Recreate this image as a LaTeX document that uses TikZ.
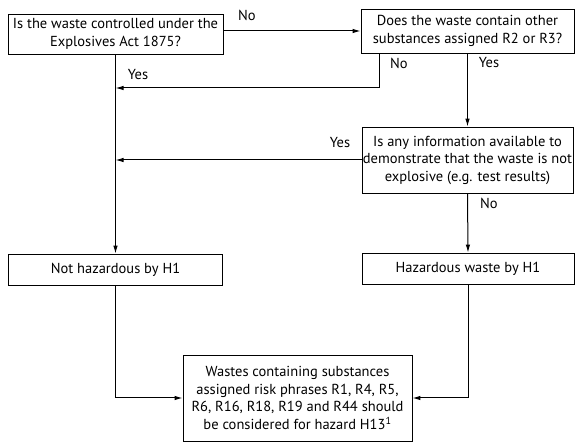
\documentclass[tikz,border=0pt]{standalone}
\usepackage{fontspec}
\setmainfont{PT Sans}
\usetikzlibrary{arrows.meta}
\begin{document}
\begin{tikzpicture}[x=1pt,y=-1pt,
  box/.style={draw,line width=0.8pt,align=center,inner sep=1pt,
    font=\fontsize{14.5}{17.5}\selectfont},
  flow/.style={line width=1pt,-{Latex[length=8pt,width=4.5pt]}},
  lbl/.style={font=\fontsize{14.5}{16}\selectfont,inner sep=0pt}]
\useasboundingbox (0,0) rectangle (576,443);

% decision and outcome boxes
\node[box,minimum width=215pt,minimum height=40pt] (b1) at (115.5,34)
  {Is the waste controlled under the\\Explosives Act 1875?};
\node[box,minimum width=213pt,minimum height=44pt] (b2) at (467.5,31)
  {Does the waste contain other\\substances assigned R2 or R3?};
\node[box,minimum width=211pt,minimum height=66pt] (b3) at (467.5,160)
  {Is any information available to\\demonstrate that the waste is not\\explosive (e.g. test results)};
\node[box,minimum width=214pt,minimum height=31pt] (nh) at (115.5,269.5)
  {Not hazardous by H1};
\node[box,minimum width=212pt,minimum height=31pt] (hw) at (468,268.5)
  {Hazardous waste by H1};
\node[box,minimum width=229pt,minimum height=86pt] (fin) at (297.5,398)
  {Wastes containing substances\\assigned risk phrases R1, R4, R5,\\R6, R16, R18, R19 and R44 should\\be considered for hazard H13\textsuperscript{1}};

% junction points on the left trunk
\coordinate (j1) at (115.5,88);
\coordinate (j2) at (115.5,160);

% connectors
\draw[flow] (b2.west -| b1.east) -- (b2.west);
\draw[flow] ([xshift=19pt]b2.south west) |- (j1);
\draw[flow] (b2.south) -- (b3.north);
\draw[flow] (b3.west) -- (j2);
\draw[flow] (b1.south) -- (nh.north);
\draw[flow] (b3.south) -- (hw.north);
\draw[flow] (nh.south) |- (fin.west);
\draw[flow] (hw.south) |- (fin.east);

% branch labels
\node[lbl] (lno1) at (247,15) {No};
\node[lbl] (lyes1) at (138,75) {Yes};
\node[lbl] (lno2) at (399,63) {No};
\node[lbl] (lyes2) at (489,63) {Yes};
\node[lbl] (lyes3) at (340,143) {Yes};
\node[lbl] (lno3) at (489,203) {No};
\end{tikzpicture}
\end{document}
